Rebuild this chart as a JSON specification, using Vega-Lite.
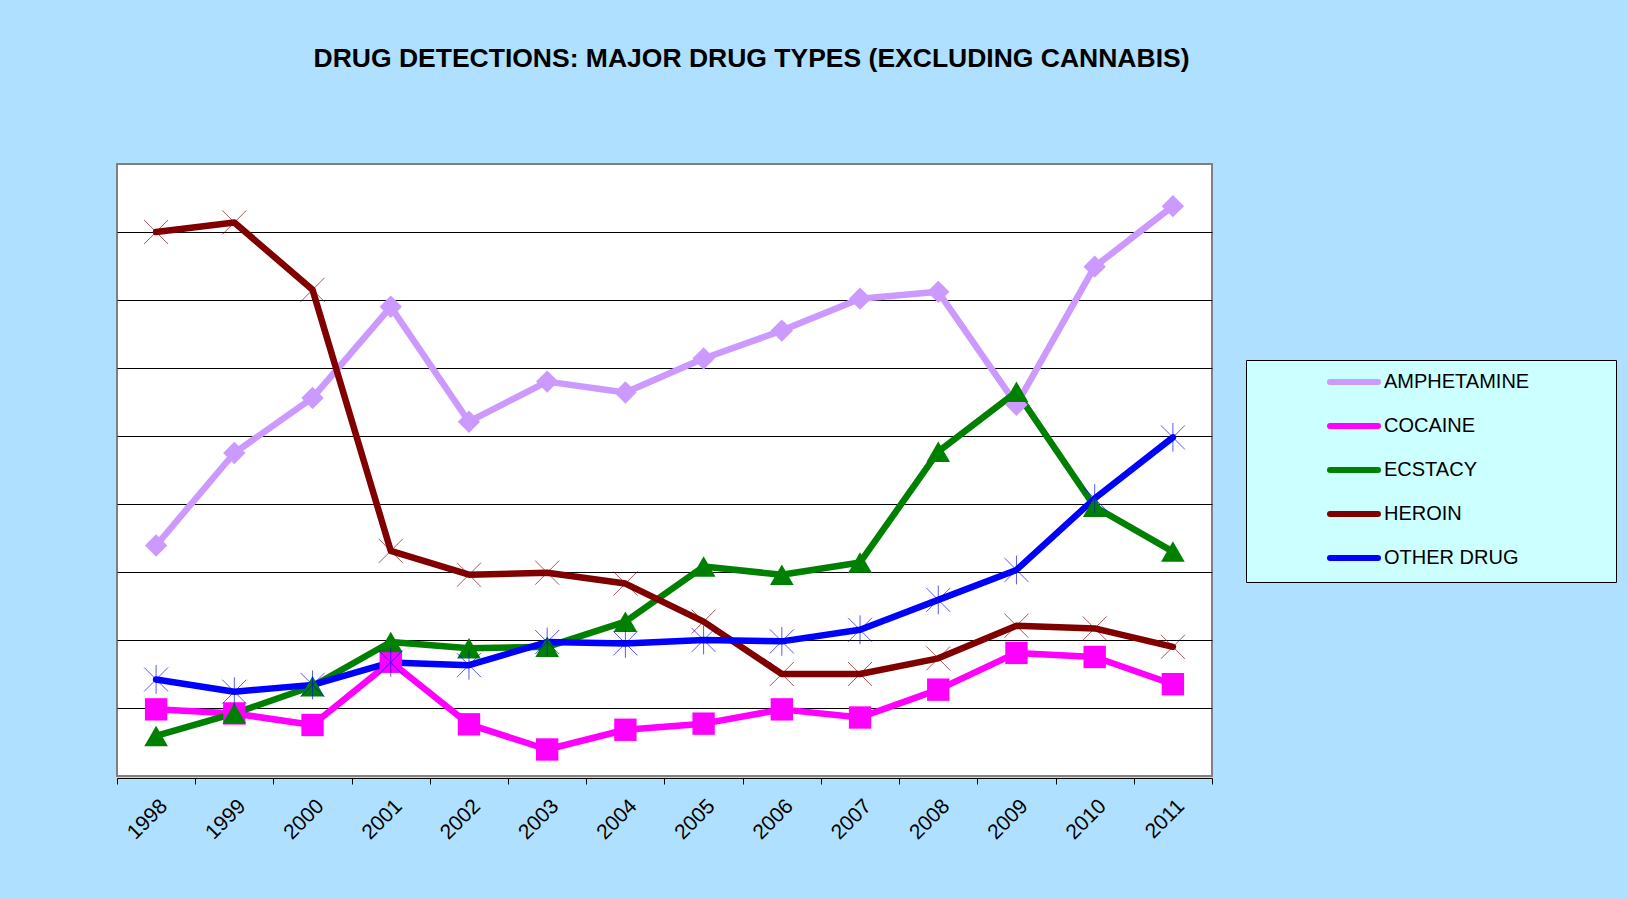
{
  "$schema": "https://vega.github.io/schema/vega-lite/v6.json",
  "width": 1095,
  "height": 612,
  "autosize": {"type": "none"},
  "padding": {"left": 117, "top": 164, "right": 416, "bottom": 123},
  "background": "#B0E0FF",
  "title": {
    "text": "DRUG DETECTIONS: MAJOR DRUG TYPES (EXCLUDING CANNABIS)",
    "font": "Liberation Sans",
    "fontSize": 26.5,
    "fontWeight": "bold",
    "color": "#000000",
    "anchor": "middle",
    "dx": 87,
    "offset": 92
  },
  "config": {
    "view": {"stroke": "#808080", "strokeWidth": 2, "fill": "#FFFFFF"}
  },
  "data": {
    "values": [
      {"year": "1998", "drug": "AMPHETAMINE", "value": 3.39},
      {"year": "1999", "drug": "AMPHETAMINE", "value": 4.75},
      {"year": "2000", "drug": "AMPHETAMINE", "value": 5.56},
      {"year": "2001", "drug": "AMPHETAMINE", "value": 6.9},
      {"year": "2002", "drug": "AMPHETAMINE", "value": 5.21},
      {"year": "2003", "drug": "AMPHETAMINE", "value": 5.8},
      {"year": "2004", "drug": "AMPHETAMINE", "value": 5.64},
      {"year": "2005", "drug": "AMPHETAMINE", "value": 6.14},
      {"year": "2006", "drug": "AMPHETAMINE", "value": 6.55},
      {"year": "2007", "drug": "AMPHETAMINE", "value": 7.02},
      {"year": "2008", "drug": "AMPHETAMINE", "value": 7.12},
      {"year": "2009", "drug": "AMPHETAMINE", "value": 5.46},
      {"year": "2010", "drug": "AMPHETAMINE", "value": 7.49},
      {"year": "2011", "drug": "AMPHETAMINE", "value": 8.38},
      {"year": "1998", "drug": "COCAINE", "value": 0.98},
      {"year": "1999", "drug": "COCAINE", "value": 0.92},
      {"year": "2000", "drug": "COCAINE", "value": 0.75},
      {"year": "2001", "drug": "COCAINE", "value": 1.68},
      {"year": "2002", "drug": "COCAINE", "value": 0.76},
      {"year": "2003", "drug": "COCAINE", "value": 0.39},
      {"year": "2004", "drug": "COCAINE", "value": 0.68},
      {"year": "2005", "drug": "COCAINE", "value": 0.77},
      {"year": "2006", "drug": "COCAINE", "value": 0.98},
      {"year": "2007", "drug": "COCAINE", "value": 0.86},
      {"year": "2008", "drug": "COCAINE", "value": 1.27},
      {"year": "2009", "drug": "COCAINE", "value": 1.81},
      {"year": "2010", "drug": "COCAINE", "value": 1.75},
      {"year": "2011", "drug": "COCAINE", "value": 1.35},
      {"year": "1998", "drug": "ECSTACY", "value": 0.59},
      {"year": "1999", "drug": "ECSTACY", "value": 0.92},
      {"year": "2000", "drug": "ECSTACY", "value": 1.32},
      {"year": "2001", "drug": "ECSTACY", "value": 1.97},
      {"year": "2002", "drug": "ECSTACY", "value": 1.88},
      {"year": "2003", "drug": "ECSTACY", "value": 1.9},
      {"year": "2004", "drug": "ECSTACY", "value": 2.27},
      {"year": "2005", "drug": "ECSTACY", "value": 3.08},
      {"year": "2006", "drug": "ECSTACY", "value": 2.96},
      {"year": "2007", "drug": "ECSTACY", "value": 3.14},
      {"year": "2008", "drug": "ECSTACY", "value": 4.77},
      {"year": "2009", "drug": "ECSTACY", "value": 5.65},
      {"year": "2010", "drug": "ECSTACY", "value": 3.96},
      {"year": "2011", "drug": "ECSTACY", "value": 3.3},
      {"year": "1998", "drug": "HEROIN", "value": 8.0},
      {"year": "1999", "drug": "HEROIN", "value": 8.14},
      {"year": "2000", "drug": "HEROIN", "value": 7.15},
      {"year": "2001", "drug": "HEROIN", "value": 3.31},
      {"year": "2002", "drug": "HEROIN", "value": 2.96},
      {"year": "2003", "drug": "HEROIN", "value": 2.99},
      {"year": "2004", "drug": "HEROIN", "value": 2.83},
      {"year": "2005", "drug": "HEROIN", "value": 2.27},
      {"year": "2006", "drug": "HEROIN", "value": 1.5},
      {"year": "2007", "drug": "HEROIN", "value": 1.5},
      {"year": "2008", "drug": "HEROIN", "value": 1.73},
      {"year": "2009", "drug": "HEROIN", "value": 2.21},
      {"year": "2010", "drug": "HEROIN", "value": 2.17},
      {"year": "2011", "drug": "HEROIN", "value": 1.9},
      {"year": "1998", "drug": "OTHER DRUG", "value": 1.42},
      {"year": "1999", "drug": "OTHER DRUG", "value": 1.24},
      {"year": "2000", "drug": "OTHER DRUG", "value": 1.34},
      {"year": "2001", "drug": "OTHER DRUG", "value": 1.67},
      {"year": "2002", "drug": "OTHER DRUG", "value": 1.63},
      {"year": "2003", "drug": "OTHER DRUG", "value": 1.97},
      {"year": "2004", "drug": "OTHER DRUG", "value": 1.95},
      {"year": "2005", "drug": "OTHER DRUG", "value": 2.0},
      {"year": "2006", "drug": "OTHER DRUG", "value": 1.98},
      {"year": "2007", "drug": "OTHER DRUG", "value": 2.15},
      {"year": "2008", "drug": "OTHER DRUG", "value": 2.59},
      {"year": "2009", "drug": "OTHER DRUG", "value": 3.03},
      {"year": "2010", "drug": "OTHER DRUG", "value": 4.08},
      {"year": "2011", "drug": "OTHER DRUG", "value": 4.98}
    ]
  },
  "encoding": {
    "x": {
      "field": "year",
      "type": "ordinal",
      "bandPosition": 0.5,
      "scale": {"type": "band", "paddingInner": 0, "paddingOuter": 0},
      "axis": {
        "title": null,
        "labelAngle": -45,
        "labelFont": "Liberation Sans",
        "labelFontSize": 21,
        "labelColor": "#000000",
        "tickBand": "extent",
        "tickColor": "#000000",
        "tickSize": 6,
        "domainColor": "#000000",
        "offset": 2,
        "labelPadding": 11,
        "grid": false
      }
    },
    "y": {
      "field": "value",
      "type": "quantitative",
      "scale": {"domain": [0, 9], "nice": false},
      "axis": {
        "title": null,
        "labels": false,
        "ticks": false,
        "domain": false,
        "grid": true,
        "values": [1, 2, 3, 4, 5, 6, 7, 8],
        "gridColor": "#000000",
        "gridWidth": 1.2
      }
    },
    "color": {
      "field": "drug",
      "type": "nominal",
      "scale": {
        "domain": ["AMPHETAMINE", "COCAINE", "ECSTACY", "HEROIN", "OTHER DRUG"],
        "range": ["#CC99FF", "#FF00FF", "#008000", "#800000", "#0000FF"]
      },
      "legend": {
        "orient": "none",
        "legendX": 1129,
        "legendY": 196,
        "title": " ",
        "titleOrient": "right",
        "titlePadding": 75,
        "padding": 12,
        "fillColor": "#CCFFFF",
        "strokeColor": "#000000",
        "symbolType": "M-4.8,0H4.8",
        "symbolSize": 100,
        "symbolStrokeWidth": 6,
        "symbolOffset": 86,
        "labelOffset": 20,
        "rowPadding": 20,
        "labelFont": "Liberation Sans",
        "labelFontSize": 20,
        "labelColor": "#000000",
        "labelLimit": 300,
        "encode": {
          "symbols": {
            "update": {
              "shape": {"value": "M-4.8,0H4.8"},
              "size": {"value": 100},
              "strokeWidth": {"value": 6},
              "strokeCap": {"value": "round"},
              "stroke": {"scale": "color", "field": "value"},
              "opacity": {"value": 1}
            }
          }
        }
      }
    }
  },
  "layer": [
    {
      "mark": {"type": "line", "strokeWidth": 6.5, "strokeJoin": "round", "strokeCap": "round"}
    },
    {
      "transform": [{"filter": {"field": "drug", "equal": "AMPHETAMINE"}}],
      "mark": {"type": "point", "shape": "diamond", "filled": true, "opacity": 1, "size": 500}
    },
    {
      "transform": [{"filter": {"field": "drug", "equal": "COCAINE"}}],
      "mark": {"type": "point", "shape": "square", "filled": true, "opacity": 1, "size": 500}
    },
    {
      "transform": [{"filter": {"field": "drug", "equal": "ECSTACY"}}],
      "mark": {"type": "point", "shape": "triangle-up", "filled": true, "opacity": 1, "size": 560}
    },
    {
      "transform": [{"filter": {"field": "drug", "equal": "HEROIN"}}],
      "mark": {"type": "point", "shape": "M-1,-1L1,1M-1,1L1,-1", "filled": false, "strokeWidth": 1, "opacity": 0.65, "size": 576}
    },
    {
      "transform": [{"filter": {"field": "drug", "equal": "OTHER DRUG"}}],
      "mark": {"type": "point", "shape": "M-1,-1L1,1M-1,1L1,-1M0,-1.2L0,1.2", "filled": false, "strokeWidth": 1, "opacity": 0.65, "size": 576}
    }
  ]
}
